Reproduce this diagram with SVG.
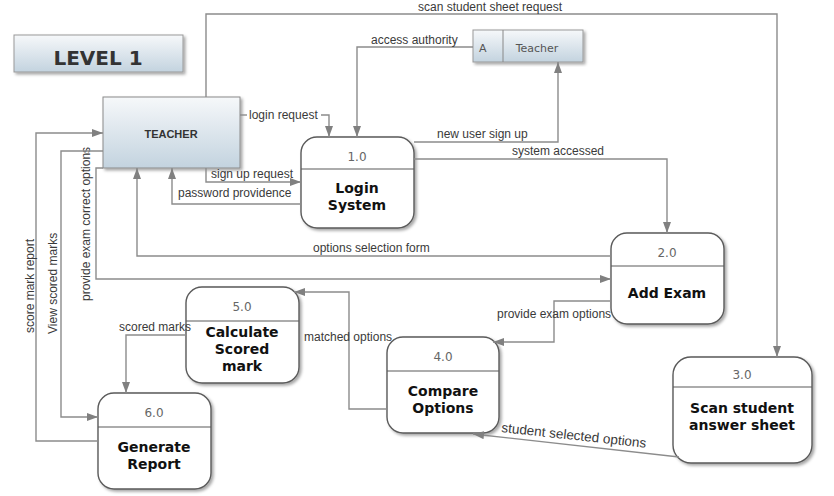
<svg xmlns="http://www.w3.org/2000/svg" width="834" height="496" viewBox="0 0 834 496">
<defs>
<linearGradient id="gBlue" x1="0" y1="0" x2="0" y2="1">
<stop offset="0" stop-color="#f6f8fa"/>
<stop offset="1" stop-color="#c3d3df"/>
</linearGradient>
<filter id="sh" x="-10%" y="-10%" width="125%" height="125%">
<feDropShadow dx="2" dy="2" stdDeviation="1.5" flood-color="#000" flood-opacity="0.35"/>
</filter>
<marker id="arr" markerWidth="12" markerHeight="8" refX="11" refY="4" orient="auto" markerUnits="userSpaceOnUse">
<path d="M0,0 L11,4 L0,8 z" fill="#808080"/>
</marker>
<style>
.ln{fill:none;stroke:#8c8c8c;stroke-width:1.4}
.lbl{font-family:"Liberation Sans",Arial,sans-serif;font-size:12px;fill:#3a3a3a}
.proc{fill:#fff;stroke:#5a5a5a;stroke-width:1.4;filter:url(#sh)}
.div{stroke:#5a5a5a;stroke-width:1.2}
.num{font-family:"DejaVu Sans",Verdana,sans-serif;font-size:12px;fill:#666;text-anchor:middle}
.pt{font-family:"DejaVu Sans",Verdana,sans-serif;font-size:14px;font-weight:bold;fill:#111;text-anchor:middle}
</style>
</defs>
<rect width="834" height="496" fill="#fff"/>

<g id="title">
<rect x="14" y="35" width="169" height="37" fill="url(#gBlue)" stroke="#999" stroke-width="1" filter="url(#sh)"/>
<text x="98" y="65" font-family="DejaVu Sans,Verdana,sans-serif" font-size="20" font-weight="bold" fill="#333" text-anchor="middle">LEVEL 1</text>
</g>

<g id="teacher">
<rect x="103" y="97" width="137" height="71" fill="url(#gBlue)" stroke="#8a8a8a" stroke-width="1" filter="url(#sh)"/>
<text x="171" y="138" font-family="Liberation Sans,Arial,sans-serif" font-size="11" font-weight="bold" fill="#333" text-anchor="middle">TEACHER</text>
</g>

<g id="store-teacher">
<rect x="473" y="30" width="110" height="32" fill="url(#gBlue)" stroke="#999" stroke-width="1" filter="url(#sh)"/>
<line x1="503" y1="30" x2="503" y2="62" stroke="#888" stroke-width="1"/>
<text x="479" y="52" font-family="DejaVu Sans,Verdana,sans-serif" font-size="11" fill="#555">A</text>
<text x="537" y="52" font-family="DejaVu Sans,Verdana,sans-serif" font-size="11" fill="#555" text-anchor="middle">Teacher</text>
</g>

<g id="p1">
<rect class="proc" x="301" y="137" width="113" height="91" rx="16"/>
<line class="div" x1="301" y1="169" x2="414" y2="169"/>
<text class="num" x="357" y="161">1.0</text>
<text class="pt" x="357" y="193">Login</text>
<text class="pt" x="357" y="210">System</text>
</g>

<g id="p2">
<rect class="proc" x="611" y="233" width="113" height="91" rx="16"/>
<line class="div" x1="611" y1="266" x2="724" y2="266"/>
<text class="num" x="667" y="257">2.0</text>
<text class="pt" x="667" y="298">Add Exam</text>
</g>

<g id="p3">
<rect class="proc" x="673" y="357" width="139" height="106" rx="18"/>
<line class="div" x1="673" y1="387" x2="812" y2="387"/>
<text class="num" x="742" y="379">3.0</text>
<text class="pt" x="742" y="413">Scan student</text>
<text class="pt" x="742" y="430">answer sheet</text>
</g>

<g id="p4">
<rect class="proc" x="387" y="337" width="112" height="96" rx="16"/>
<line class="div" x1="387" y1="371" x2="499" y2="371"/>
<text class="num" x="443" y="361">4.0</text>
<text class="pt" x="443" y="396">Compare</text>
<text class="pt" x="443" y="413">Options</text>
</g>

<g id="p5">
<rect class="proc" x="186" y="287" width="113" height="96" rx="16"/>
<line class="div" x1="186" y1="321" x2="299" y2="321"/>
<text class="num" x="242" y="311">5.0</text>
<text class="pt" x="242" y="337">Calculate</text>
<text class="pt" x="242" y="354">Scored</text>
<text class="pt" x="242" y="371">mark</text>
</g>

<g id="p6">
<rect class="proc" x="98" y="393" width="113" height="96" rx="16"/>
<line class="div" x1="98" y1="427" x2="211" y2="427"/>
<text class="num" x="154" y="417">6.0</text>
<text class="pt" x="154" y="452">Generate</text>
<text class="pt" x="154" y="469">Report</text>
</g>

<g id="connectors">
<path class="ln" d="M206,97 V14 H777 V357" marker-end="url(#arr)"/>
<text class="lbl" x="418" y="11">scan student sheet request</text>
<path class="ln" d="M473,47 H357 V137" marker-end="url(#arr)"/>
<text class="lbl" x="371" y="44">access authority</text>
<path class="ln" d="M240,115 H247"/>
<path class="ln" d="M321,115 H329 V137" marker-end="url(#arr)"/>
<text class="lbl" x="249" y="119">login request</text>
<path class="ln" d="M414,142 H558 V62" marker-end="url(#arr)"/>
<text class="lbl" x="437" y="138">new user sign up</text>
<path class="ln" d="M414,159 H667 V233" marker-end="url(#arr)"/>
<text class="lbl" x="512" y="155">system accessed</text>
<path class="ln" d="M206,168 V182 H301" marker-end="url(#arr)"/>
<text class="lbl" x="211" y="178">sign up request</text>
<path class="ln" d="M301,204 H172 V168" marker-end="url(#arr)"/>
<text class="lbl" x="178" y="197">password providence</text>
<path class="ln" d="M611,256 H137 V168" marker-end="url(#arr)"/>
<text class="lbl" x="313" y="252">options selection form</text>
<path class="ln" d="M103,168 H96 V279 H611" marker-end="url(#arr)"/>
<text class="lbl" transform="translate(90,301) rotate(-90)">provide exam correct options</text>
<path class="ln" d="M103,151 H61 V417 H98" marker-end="url(#arr)"/>
<text class="lbl" transform="translate(57,334) rotate(-90)">View scored marks</text>
<path class="ln" d="M98,441 H36 V133 H103" marker-end="url(#arr)"/>
<text class="lbl" transform="translate(34,333) rotate(-90)">score mark report</text>
<path class="ln" d="M611,301 H554 V342 H493" marker-end="url(#arr)"/>
<text class="lbl" x="497" y="318">provide exam options</text>
<path class="ln" d="M387,409 H349 V292 H294" marker-end="url(#arr)"/>
<text class="lbl" x="304" y="341">matched options</text>
<path class="ln" d="M186,335 H126 V393" marker-end="url(#arr)"/>
<text class="lbl" x="119" y="331">scored marks</text>
<path class="ln" d="M679,457 L473,434" marker-end="url(#arr)"/>
<text class="lbl" style="font-size:13.5px" transform="translate(501,432) rotate(6.2)">student selected options</text>
</g>
</svg>
